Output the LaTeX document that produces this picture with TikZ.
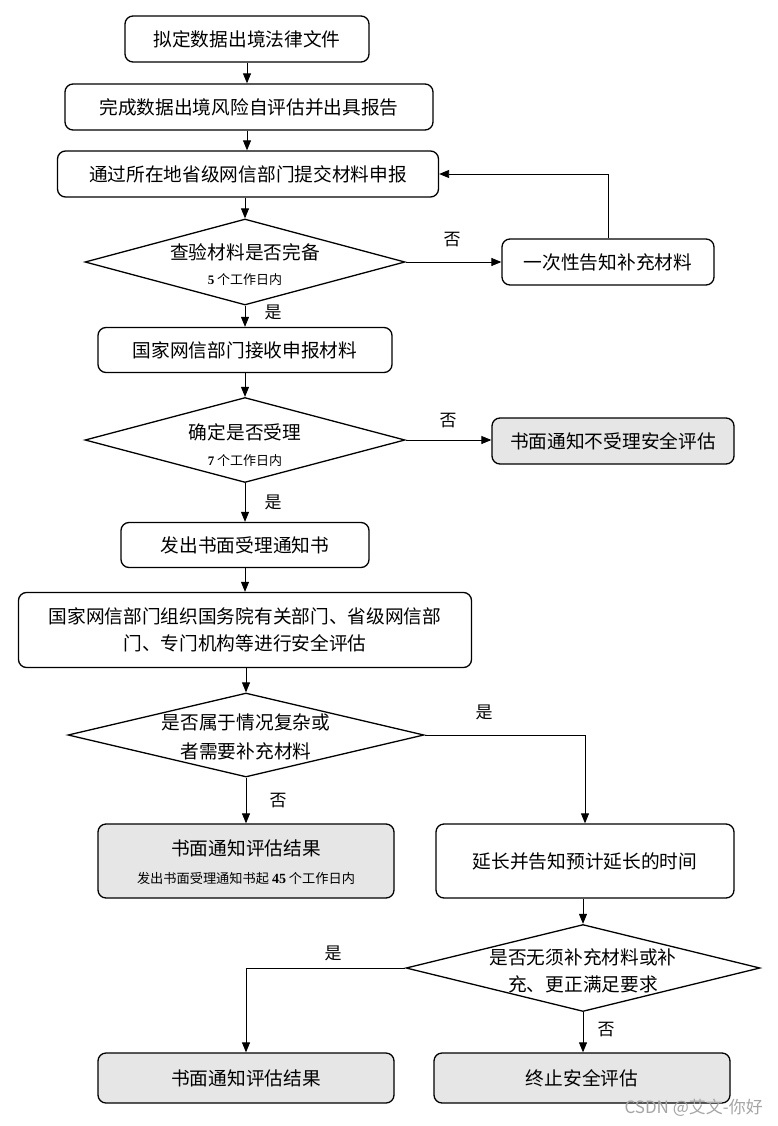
\documentclass[tikz,border=0pt]{standalone}
\usepackage{fontspec}
\setmainfont{Liberation Serif}
\newfontfamily\cjk{Noto Sans CJK SC}
\newfontfamily\numf{Liberation Serif}
\usetikzlibrary{shapes.geometric,arrows.meta}
\definecolor{boxgray}{RGB}{230,230,230}
\definecolor{wmgray}{RGB}{165,165,165}
\begin{document}
\begin{tikzpicture}[x=1pt,y=-1pt,
  box/.style={draw, line width=1.3pt, rounded corners=8pt, inner sep=0pt, align=center,
    font=\cjk\fontsize{18.7}{27}\selectfont},
  gbox/.style={box, fill=boxgray},
  dia/.style={draw, diamond, line width=1.3pt, inner sep=0pt},
  txt/.style={font=\cjk\fontsize{18.7}{28}\selectfont, align=center, inner sep=0pt},
  small/.style={font=\cjk\fontsize{13}{14}\selectfont, inner sep=0pt},
  lab/.style={font=\cjk\fontsize{17}{20}\selectfont, inner sep=0pt},
  arr/.style={line width=0.9pt, -{Triangle[length=10pt,width=8pt]}},
  ln/.style={line width=0.9pt}]
\useasboundingbox (0,0) rectangle (777,1126);
\fill[white] (0,0) rectangle (777,1126);

% boxes
\node[box, minimum width=244, minimum height=46] (n1) at (247,39) {拟定数据出境法律文件};
\node[box, minimum width=368, minimum height=46] (n2) at (249,107) {完成数据出境风险自评估并出具报告};
\node[box, minimum width=381, minimum height=46] (n3) at (248,174) {通过所在地省级网信部门提交材料申报};
\node[dia, minimum width=320, minimum height=86] (d1) at (245,262) {};
\node[txt] (d1t) at (245,252) {查验材料是否完备};
\node[small] (d1s) at (245,280) {{\numf\bfseries 5} 个工作日内};
\node[box, minimum width=212, minimum height=46] (n5) at (608,262) {一次性告知补充材料};
\node[box, minimum width=294, minimum height=45] (n4) at (245,350) {国家网信部门接收申报材料};
\node[dia, minimum width=320, minimum height=85] (d2) at (245,440) {};
\node[txt] (d2t) at (245,432) {确定是否受理};
\node[small] (d2s) at (245,461) {{\numf\bfseries 7} 个工作日内};
\node[gbox, minimum width=242, minimum height=46] (n6) at (613,441) {书面通知不受理安全评估};
\node[box, minimum width=248, minimum height=45] (n7) at (245,545) {发出书面受理通知书};
\node[box, minimum width=453, minimum height=75] (n8) at (245,630) {国家网信部门组织国务院有关部门、省级网信部\\门、专门机构等进行安全评估};
\node[dia, minimum width=356, minimum height=84] (d3) at (246,735) {};
\node[txt, font=\cjk\fontsize{18.7}{29}\selectfont] (d3t) at (246,737) {是否属于情况复杂或\\者需要补充材料};
\node[gbox, minimum width=296, minimum height=74] (r1) at (246,861) {};
\node[txt] (r1t) at (246,848) {书面通知评估结果};
\node[small, font=\cjk\fontsize{13.2}{14}\selectfont] (r1s) at (246,878) {发出书面受理通知书起 {\numf\bfseries\fontsize{14}{14}\selectfont 45} 个工作日内};
\node[box, minimum width=298, minimum height=74] (r2) at (585,861) {延长并告知预计延长的时间};
\node[dia, minimum width=354, minimum height=87] (d4) at (583,968) {};
\node[txt, font=\cjk\fontsize{18.7}{27}\selectfont] (d4t) at (583,971) {是否无须补充材料或补\\充、更正满足要求};
\node[gbox, minimum width=296, minimum height=50] (r3) at (246,1078) {书面通知评估结果};
\node[gbox, minimum width=296, minimum height=50] (r4) at (582,1078) {终止安全评估};

% labels
\node[lab] (l1) at (452,240) {否};
\node[lab] (l2) at (273,312) {是};
\node[lab] (l3) at (448,421) {否};
\node[lab] (l4) at (273,502) {是};
\node[lab] (l5) at (484,712) {是};
\node[lab] (l6) at (278,801) {否};
\node[lab] (l7) at (333,953) {是};
\node[lab] (l8) at (606,1030) {否};

% connectors
\draw[arr] (n1.south) -- (n1.south |- n2.north);
\draw[arr] (n1.south |- n2.south) -- (n1.south |- n3.north);
\draw[arr] (d1.north |- n3.south) -- (d1.north);
\draw[arr] (d1.east) -- (n5.west);
\draw[arr] (n5.north) |- (n3.east);
\draw[arr] (d1.south) -- (n4.north);
\draw[arr] (n4.south) -- (d2.north);
\draw[arr] (d2.east) -- (d2.east -| n6.west);
\draw[arr] (d2.south) -- (n7.north);
\draw[arr] (n7.south) -- (n7.south |- n8.north);
\draw[arr] (d3.north |- n8.south) -- (d3.north);
\draw[arr] (d3.south) -- (r1.north);
\draw[arr] (d3.east) -| (r2.north);
\draw[arr] (d4.north |- r2.south) -- (d4.north);
\draw[arr] (d4.west) -| (r3.north);
\draw[arr] (d4.south) -- (d4.south |- r4.north);

% watermark
\node[font=\cjk\fontsize{17}{20}\selectfont, text=wmgray, anchor=east, inner sep=0pt] (wm) at (763,1108) {CSDN @艾文-你好};
\end{tikzpicture}
\end{document}
